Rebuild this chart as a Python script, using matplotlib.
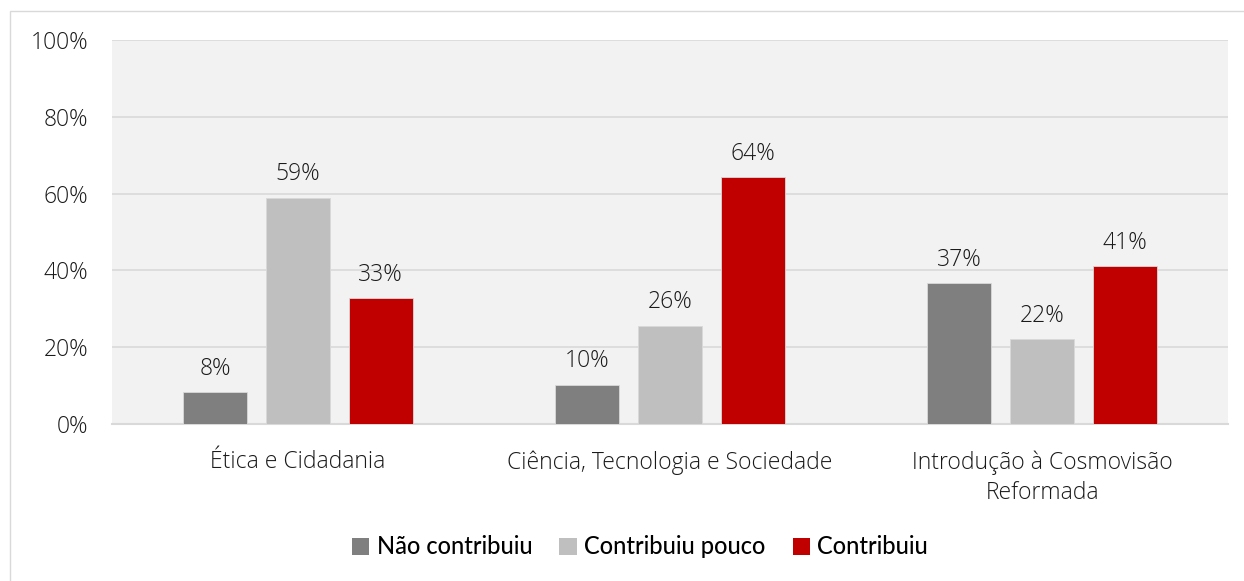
import matplotlib
matplotlib.use("Agg")
import matplotlib.pyplot as plt
from matplotlib.patches import Rectangle, Patch
import numpy as np

categories = ["Ética e Cidadania", "Ciência, Tecnologia e Sociedade",
              "Introdução à Cosmovisão\nReformada"]
series_names = ["Não contribuiu", "Contribuiu pouco", "Contribuiu"]
nao_contribuiu = [0.083, 0.102, 0.366]
contribuiu_pouco = [0.589, 0.256, 0.221]
contribuiu = [0.328, 0.643, 0.411]
y_ticks = [0, 0.2, 0.4, 0.6, 0.8, 1.0]
y_tick_labels = ["0%", "20%", "40%", "60%", "80%", "100%"]

colors = ["#7f7f7f", "#bfbfbf", "#c00000"]
series = [nao_contribuiu, contribuiu_pouco, contribuiu]

W, H = 1244, 581
fig = plt.figure(figsize=(W / 100, H / 100), dpi=100)
plt.rcParams['font.family'] = ['Open Sans', 'DejaVu Sans']
FS = 16.5
TXT = "#1a1a1a"

# outer border
fig.patches.append(Rectangle((10 / W, -0.1), 2, (H - 11) / H + 0.1,
                             transform=fig.transFigure, fill=False,
                             edgecolor="#d9d9d9", linewidth=1))

ax = fig.add_axes([112 / W, (H - 424) / H, (1228 - 112) / W, (424 - 40) / H])
ax.set_facecolor("#f2f2f2")

x = np.arange(len(categories))
bw = 0.172
step = 0.222
for i, (vals, c, name) in enumerate(zip(series, colors, series_names)):
    pos = x + (i - 1) * step
    ax.bar(pos, vals, width=bw, color=c, edgecolor="#d9d9d9", linewidth=0.6,
           zorder=3, label=name)
    for p, v in zip(pos, vals):
        ax.text(p, v + 0.03, f"{round(v * 100):d}%", ha="center", va="bottom",
                fontsize=FS, color=TXT, fontweight="light", zorder=4)

ax.set_xlim(-0.5, 2.5)
ax.set_ylim(0, 1.0)
ax.set_yticks(y_ticks)
ax.set_yticklabels(y_tick_labels, fontsize=FS, color=TXT, fontweight="light")
ax.set_xticks(x)
ax.set_xticklabels(categories, fontsize=FS, color=TXT, linespacing=1.35,
                   fontweight="light")
ax.tick_params(axis="both", length=0)
ax.tick_params(axis="y", pad=17)
ax.tick_params(axis="x", pad=19)
ax.grid(axis="y", color="#d9d9d9", linewidth=1.2, zorder=0)
ax.set_axisbelow(True)
for s in ["top", "right", "left"]:
    ax.spines[s].set_visible(False)
ax.spines["bottom"].set_color("#d9d9d9")
ax.spines["bottom"].set_linewidth(1.5)

handles = [Patch(facecolor=c, edgecolor="none") for c in colors]
fig.legend(handles, series_names, loc="center", bbox_to_anchor=(640 / W, (H - 547) / H),
           ncol=3, frameon=False, handlelength=0.75, handleheight=0.75,
           handletextpad=0.3, columnspacing=1.15,
           prop={'family': ['Lato', 'DejaVu Sans'], 'size': 17, 'weight': 'medium'})

fig.savefig("out.png", dpi=100, facecolor="white")
